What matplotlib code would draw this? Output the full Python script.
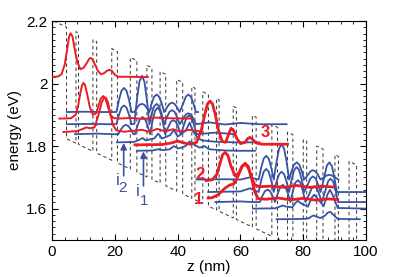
import numpy as np
import matplotlib
matplotlib.use("Agg")
import matplotlib.pyplot as plt
from matplotlib.ticker import MultipleLocator, FuncFormatter

plt.rcParams['font.family'] = ['Liberation Sans', 'DejaVu Sans']

RED = '#ec1c24'
BLUE = '#3953a4'

# tilted band profile: barrier tops / well bottoms
top_start, top_e0 = 0.5, 2.2
bot_e0 = 1.843
field_slope = 0.00477   # eV per nm
barriers = [(0.5, 4.6), (7.6, 8.4), (13.0, 14.2), (19.0, 20.8), (24.9, 27.0),
            (30.2, 31.8), (34.4, 36.2), (39.7, 41.6), (44.5, 45.5), (48.0, 49.8),
            (52.4, 53.2), (57.7, 58.7), (63.8, 65.0), (70.0, 71.8), (75.0, 76.7),
            (80.0, 81.1), (84.3, 86.3), (90.1, 91.2), (94.6, 97.0)]

# red states
ra_z = [0, 2, 3, 4, 4.8, 5.4, 5.9, 6.5, 7.2, 8, 9, 10, 11, 11.8, 12.3, 12.9, 13.6, 14.5,
        15.5, 16.5, 17.5, 18.3, 19.1, 20, 21, 30.5]
ra_e = [2.021, 2.023, 2.03, 2.06, 2.11, 2.15, 2.161, 2.15, 2.11, 2.07, 2.046, 2.05, 2.065,
        2.079, 2.082, 2.078, 2.062, 2.042, 2.03, 2.033, 2.041, 2.044, 2.04, 2.028, 2.022, 2.021]
rb_z = [2.3, 6, 7.5, 8.3, 9, 9.5, 10, 10.5, 11.2, 12, 13, 14, 14.8, 15.5, 16.3, 17, 17.8,
        18.6, 19.5, 21, 25, 29, 33, 38, 44.5]
rb_e = [1.888, 1.889, 1.9, 1.93, 1.97, 1.993, 2.002, 1.995, 1.965, 1.925, 1.9, 1.905, 1.93,
        1.952, 1.96, 1.952, 1.925, 1.9, 1.89, 1.888, 1.89, 1.887, 1.891, 1.889, 1.888]
rc_z = [3.6, 8, 10, 11, 12, 13.5, 14.8, 15.8, 16.5, 17.1, 17.8, 18.6, 19.5, 20.5, 23, 28.6,
        31, 33.5, 36, 38.5, 41, 43.5, 48]
rc_e = [1.845, 1.848, 1.856, 1.86, 1.857, 1.86, 1.9, 1.94, 1.953, 1.955, 1.94, 1.9, 1.865,
        1.85, 1.846, 1.852, 1.846, 1.855, 1.847, 1.854, 1.846, 1.852, 1.846]
r3_z = [26.4, 35, 38, 40, 42, 44, 46, 47.5, 48.6, 49.5, 50.3, 51.1, 52, 53, 54.2, 55.3, 56.3,
        57, 57.8, 58.8, 60, 61.5, 62.3, 63, 63.8, 65, 67, 75]
r3_e = [1.804, 1.805, 1.81, 1.816, 1.81, 1.806, 1.812, 1.85, 1.9, 1.935, 1.944, 1.935, 1.9,
        1.85, 1.815, 1.812, 1.84, 1.857, 1.85, 1.825, 1.808, 1.812, 1.824, 1.828, 1.822,
        1.81, 1.806, 1.806]
r2_z = [49, 51, 52.5, 53.5, 54.3, 55.1, 56, 57, 58.3, 59.5, 60.5, 61.5, 62.5, 63.5, 64.5,
        66, 70, 74, 78, 82, 86, 89.5]
r2_e = [1.69, 1.692, 1.71, 1.745, 1.772, 1.78, 1.77, 1.735, 1.705, 1.715, 1.735, 1.743,
        1.73, 1.7, 1.677, 1.67, 1.672, 1.668, 1.674, 1.668, 1.672, 1.669]
r1_z = [49.7, 51, 53, 55, 56.5, 58, 59.5, 60.5, 61.5, 62.5, 63.5, 64.5, 65.6, 68, 72, 76,
        80, 84, 88, 91]
r1_e = [1.634, 1.635, 1.645, 1.665, 1.675, 1.68, 1.71, 1.735, 1.745, 1.735, 1.7, 1.655,
        1.632, 1.63, 1.634, 1.628, 1.633, 1.627, 1.631, 1.629]

# blue states
b1_z = [4.7, 10, 16, 20.5, 21.3, 22.1, 22.9, 23.7, 24.5, 25.3, 26.2, 27.0, 27.8, 28.6, 29.4,
        30.2, 31.0, 31.7, 32.5, 33.3, 34.1, 34.9, 35.7, 36.6, 37.4, 38.2, 39.0, 39.8, 40.6,
        41.8, 42.6, 43.4, 44.2, 45.0, 45.8, 46.5]
b1_e = [1.909, 1.91, 1.909, 1.909, 1.948, 1.977, 1.986, 1.977, 1.948, 1.909, 1.909, 1.922,
        1.932, 1.935, 1.932, 1.922, 1.909, 1.937, 1.958, 1.965, 1.958, 1.937, 1.909, 1.924,
        1.935, 1.939, 1.935, 1.924, 1.909, 1.937, 1.958, 1.965, 1.958, 1.937, 1.909, 1.909]
b2_z = [4.7, 12, 18, 20.5, 21.3, 22.1, 22.9, 23.7, 24.5, 25.3, 26.2, 27.0, 27.8, 28.6, 29.4,
        30.2, 31.0, 31.7, 32.5, 33.3, 34.1, 34.9, 35.7, 36.6, 37.4, 38.2, 39.0, 39.8, 40.6,
        41.8, 42.6, 43.4, 44.2, 45.0, 45.8, 50, 55, 60, 66, 74.7]
b2_e = [1.870, 1.871, 1.870, 1.870, 1.900, 1.923, 1.930, 1.923, 1.900, 1.870, 1.871, 1.948,
        2.006, 2.025, 2.006, 1.948, 1.870, 1.903, 1.927, 1.935, 1.927, 1.903, 1.870, 1.893,
        1.910, 1.915, 1.910, 1.893, 1.870, 1.888, 1.901, 1.905, 1.901, 1.888, 1.870, 1.876,
        1.869, 1.874, 1.870, 1.870]
b3_z = [7.3, 14, 20, 21.1, 21.9, 22.7, 23.5, 24.3, 25.1, 25.9, 26.4, 27.2, 28.0, 28.8, 29.6,
        30.4, 31.2, 32.0, 32.8, 33.6, 34.4, 35.2, 36.0, 37.0, 37.8, 38.6, 39.4, 40.2, 41.0,
        42.0, 42.8, 43.6, 44.4, 45.2, 46.0, 52, 58.3]
b3_e = [1.838, 1.840, 1.838, 1.838, 1.853, 1.864, 1.868, 1.864, 1.853, 1.838, 1.838, 1.866,
        1.886, 1.893, 1.886, 1.866, 1.838, 1.881, 1.913, 1.923, 1.913, 1.881, 1.838, 1.861,
        1.878, 1.883, 1.878, 1.861, 1.838, 1.868, 1.891, 1.898, 1.891, 1.868, 1.838, 1.843,
        1.838]
i2_z = [20.6, 26, 27.8, 28.8, 29.8, 32.6, 33.8, 35, 37.6, 38.8, 40, 42.6, 43.8, 45, 46.5, 48,
        52, 58, 66]
i2_e = [1.812, 1.813, 1.82, 1.826, 1.818, 1.825, 1.84, 1.824, 1.835, 1.852, 1.83, 1.85, 1.875,
        1.845, 1.825, 1.818, 1.814, 1.812, 1.812]
i1_z = [27, 32, 33.8, 35.5, 37.5, 38.8, 40.2, 42.5, 43.8, 45.2, 47, 48.5, 50, 55, 60, 64.6]
i1_e = [1.785, 1.786, 1.79, 1.787, 1.79, 1.8, 1.792, 1.8, 1.815, 1.805, 1.795, 1.8, 1.79,
        1.786, 1.785, 1.785]
b5_z = [46, 55, 60, 63, 65.8, 66.6, 67.4, 68.2, 69.0, 69.8, 70.6, 71.5, 72.3, 73.1, 73.9,
        74.7, 75.5, 76.3, 77.1, 77.9, 78.7, 79.5, 80.3, 81.5, 82.3, 83.1, 83.9, 84.7, 85.5,
        86.7, 87.5, 88.3, 89.1, 89.9, 91.2]
b5_e = [1.693, 1.694, 1.693, 1.700, 1.693, 1.731, 1.760, 1.769, 1.760, 1.731, 1.693, 1.750,
        1.792, 1.806, 1.792, 1.750, 1.693, 1.721, 1.741, 1.748, 1.741, 1.721, 1.693, 1.708,
        1.719, 1.723, 1.719, 1.708, 1.693, 1.701, 1.706, 1.708, 1.706, 1.701, 1.693]
b6_z = [49.7, 55, 60, 63, 65.8, 66.6, 67.4, 68.2, 69.0, 69.8, 70.6, 71.5, 72.3, 73.1, 73.9,
        74.7, 75.5, 76.3, 77.1, 77.9, 78.7, 79.5, 80.3, 81.5, 82.3, 83.1, 83.9, 84.7, 85.5,
        86.7, 87.5, 88.3, 89.1, 89.9, 90.7, 95, 100]
b6_e = [1.653, 1.654, 1.655, 1.665, 1.653, 1.690, 1.718, 1.727, 1.718, 1.690, 1.653, 1.686,
        1.710, 1.718, 1.710, 1.686, 1.653, 1.693, 1.723, 1.733, 1.723, 1.693, 1.653, 1.678,
        1.697, 1.703, 1.697, 1.678, 1.653, 1.700, 1.737, 1.748, 1.737, 1.700, 1.653, 1.653,
        1.653]
b7_z = [52, 60, 64, 66.2, 67.0, 67.8, 68.6, 69.4, 70.2, 71.0, 71.9, 72.7, 73.5, 74.3, 75.1,
        75.9, 76.7, 77.5, 78.3, 79.1, 79.9, 80.7, 81.9, 82.7, 83.5, 84.3, 85.1, 85.9, 87.1,
        87.9, 88.7, 89.5, 90.3, 91.1, 95, 100]
b7_e = [1.621, 1.623, 1.621, 1.621, 1.641, 1.656, 1.661, 1.656, 1.641, 1.621, 1.649, 1.669,
        1.676, 1.669, 1.649, 1.621, 1.656, 1.683, 1.691, 1.683, 1.656, 1.621, 1.646, 1.665,
        1.671, 1.665, 1.646, 1.621, 1.659, 1.687, 1.696, 1.687, 1.659, 1.621, 1.621, 1.621]
b9_z = [64, 71, 72.7, 73.5, 74.3, 76.5, 77.5, 78.3, 79.1, 81.5, 82.7, 83.5, 84.3, 86.5, 87.7,
        88.5, 89.3, 91, 100]
b9_e = [1.6, 1.601, 1.607, 1.61, 1.607, 1.604, 1.618, 1.625, 1.618, 1.606, 1.635, 1.645,
        1.635, 1.608, 1.645, 1.66, 1.645, 1.602, 1.6]
b8_z = [71.5, 80, 81.8, 82.6, 83.4, 84.2, 85.5, 87.0, 87.8, 88.6, 89.4, 91, 98]
b8_e = [1.566, 1.567, 1.569, 1.575, 1.578, 1.574, 1.57, 1.578, 1.587, 1.59, 1.582, 1.567,
        1.566]


def top_line(z):
    return top_e0 - field_slope * (z - top_start)


def bottom_line(z):
    return bot_e0 - field_slope * (z - top_start)


fig = plt.figure(figsize=(4.04, 2.77), dpi=100)
ax = fig.add_axes([0.129, 0.134, 0.777, 0.790])

# dashed band profile
pz, pe = [], []
for i, (a, b) in enumerate(barriers):
    if i > 0:
        pz += [a]
        pe += [bottom_line(a)]
    pz += [a, b, b]
    pe += [top_line(a), top_line(b), bottom_line(b)]
    if i < len(barriers) - 1:
        nxt = barriers[i + 1][0]
        pz += [nxt]
        pe += [bottom_line(nxt)]
ax.plot(pz, pe, color='#333333', lw=0.7, ls=(0, (3.5, 3)), zorder=1)

for z, e in [(b8_z, b8_e), (b9_z, b9_e), (b7_z, b7_e), (b6_z, b6_e), (b5_z, b5_e),
             (i1_z, i1_e), (i2_z, i2_e), (b3_z, b3_e), (b2_z, b2_e), (b1_z, b1_e)]:
    ax.plot(z, e, color=BLUE, lw=1.3, zorder=2)

for z, e in [(ra_z, ra_e), (rb_z, rb_e), (rc_z, rc_e)]:
    ax.plot(z, e, color=RED, lw=1.4, zorder=3)
for z, e in [(r3_z, r3_e), (r2_z, r2_e), (r1_z, r1_e)]:
    ax.plot(z, e, color=RED, lw=2.0, zorder=3)

# state labels
ax.text(67.8, 1.844, '3', color=RED, fontsize=12, fontweight='bold', ha='center', va='center')
ax.text(47.0, 1.708, '2', color=RED, fontsize=12, fontweight='bold', ha='center', va='center')
ax.text(46.8, 1.628, '1', color=RED, fontsize=12, fontweight='bold', ha='center', va='center')

# i1 / i2 arrows
arrow = dict(arrowstyle='-|>', color=BLUE, lw=1.2, mutation_scale=9, shrinkA=0, shrinkB=0)
ax.annotate('', xy=(22.8, 1.81), xytext=(22.8, 1.705), arrowprops=arrow)
ax.annotate('', xy=(29.1, 1.783), xytext=(29.1, 1.673), arrowprops=arrow)
ax.text(20.9, 1.69, 'i', color=BLUE, fontsize=12, ha='center', va='center')
ax.text(22.4, 1.666, '2', color=BLUE, fontsize=11, ha='center', va='center')
ax.text(27.4, 1.655, 'i', color=BLUE, fontsize=12, ha='center', va='center')
ax.text(29.3, 1.625, '1', color=BLUE, fontsize=11, ha='center', va='center')

ax.set_xlim(0, 100)
ax.set_ylim(1.5, 2.2)
ax.xaxis.set_major_locator(MultipleLocator(20))
ax.xaxis.set_minor_locator(MultipleLocator(4))
ax.yaxis.set_major_locator(MultipleLocator(0.2))
ax.yaxis.set_minor_locator(MultipleLocator(0.02))
ax.yaxis.set_major_formatter(FuncFormatter(lambda v, p: '%g' % round(v, 2)))
ax.tick_params(which='both', direction='in', top=True, right=True, labelsize=11)
ax.tick_params(which='major', length=4)
ax.tick_params(which='minor', length=2)
ax.set_xlabel('z (nm)', fontsize=11, labelpad=1)
ax.set_ylabel('energy (eV)', fontsize=11, labelpad=3)

fig.savefig('out.png', dpi=100)
